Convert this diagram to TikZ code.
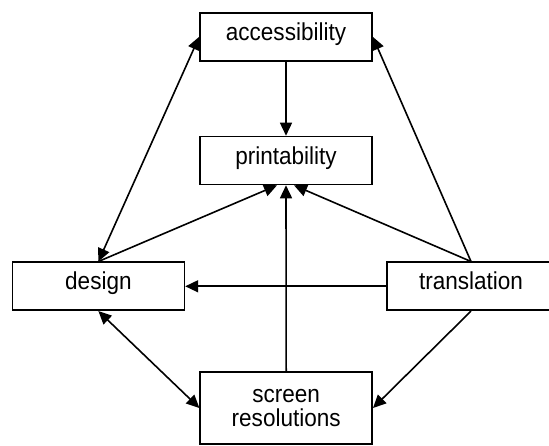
\documentclass[tikz,border=0pt]{standalone}
\usepackage{fontspec}
\setmainfont{Liberation Sans}
\newfontfamily\boxfont{Liberation Sans}[FakeStretch=0.92]
\usetikzlibrary{arrows.meta}
\begin{document}
\begin{tikzpicture}[x=1pt,y=-1pt,
  box/.style={draw, line width=1.6pt, minimum width=172pt, minimum height=48pt,
    inner sep=0pt, align=center, text height=0.93em, text depth=0.21em,
    font=\boxfont\fontsize{24.5}{24}\selectfont},
  link/.style={line width=1.6pt, -{Triangle[length=13pt,width=12pt]}},
  both/.style={line width=1.6pt, {Triangle[length=13pt,width=12pt]}-{Triangle[length=13pt,width=12pt]}}]
\clip (0,0) rectangle (549,446);
\fill[white] (0,0) rectangle (549,446);

% boxes
\node[box] (acc) at (286,36.8) {accessibility};
\node[box] (prt) at (286,160.5) {printability};
\node[box] (des) at (98.4,286.3) {design};
\node[box, minimum width=168pt] (trn) at (471,286.3) {translation};
\node[box, minimum height=72pt, text height=, text depth=] (scr) at (286.2,408) {screen\\resolutions};

% connectors
\draw[link] (acc.south) -- (prt.north);
\draw[both] (des.north) -- (acc.west);
\draw[link] (des.north) -- ([xshift=-9pt]prt.south);
\draw[link] (trn.north) -- (acc.east);
\draw[link] (trn.north) -- ([xshift=8pt]prt.south);
\draw[link] (scr.north) -- (prt.south);
\draw[link] (trn.west) -- (des.east);
\draw[both] (des.south) -- (scr.west);
\draw[link] (trn.south) -- (scr.east);
\end{tikzpicture}
\end{document}
